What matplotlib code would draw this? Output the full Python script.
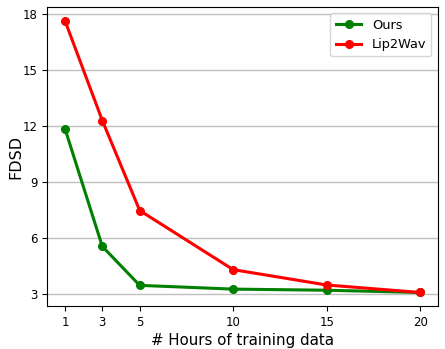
import matplotlib
matplotlib.use("Agg")
import matplotlib.pyplot as plt

hours = [1, 3, 5, 10, 15, 20]
ours = [11.86, 5.56, 3.48, 3.28, 3.22, 3.10]
lip2wav = [17.63, 12.29, 7.48, 4.32, 3.50, 3.10]
yticks = [3, 6, 9, 12, 15, 18]

fig = plt.figure(figsize=(4.45, 3.49), dpi=100)
ax = fig.add_axes([0.106, 0.123, 0.878, 0.857])

ax.plot(hours, ours, "-o", color="green", linewidth=2.2, markersize=5.5, label="Ours")
ax.plot(hours, lip2wav, "-o", color="red", linewidth=2.2, markersize=5.5, label="Lip2Wav")

ax.set_xticks(hours)
ax.set_yticks(yticks)
ax.tick_params(labelsize=8.5)
ax.grid(axis="y", color="#bfbfbf", linewidth=1)
ax.set_axisbelow(True)
ax.set_xlabel("# Hours of training data", fontsize=10.8, labelpad=3)
ax.set_ylabel("FDSD", fontsize=11.5, labelpad=-1)
ax.legend(loc="upper right", fontsize=9.3)

fig.savefig("out.png", dpi=100)
